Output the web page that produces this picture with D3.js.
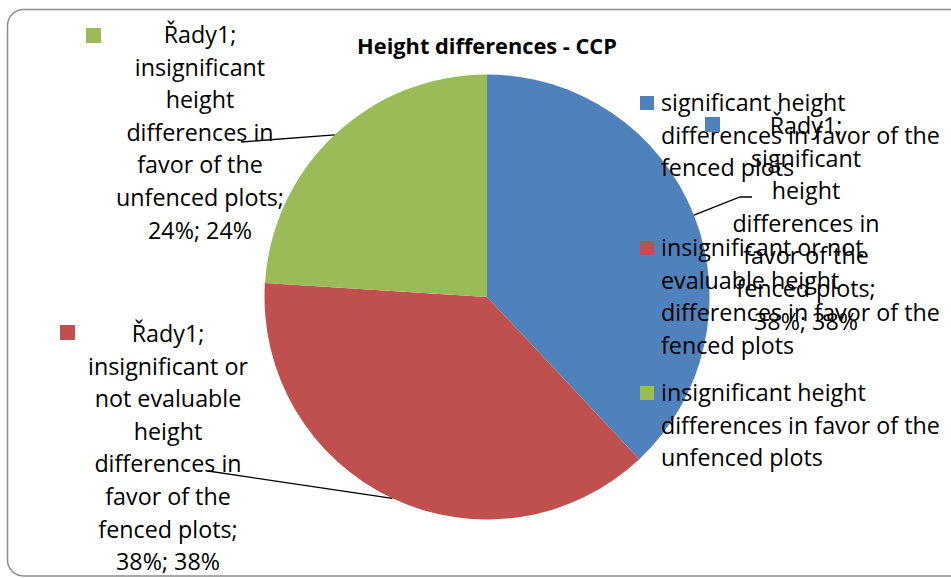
<!DOCTYPE html>
<html><head><meta charset="utf-8">
<script src="https://cdn.jsdelivr.net/npm/d3@7"></script>
<style>body{margin:0;background:#fff}svg{display:block}</style>
</head><body>
<svg id="c" width="951" height="578"></svg>
<script>
const title = "Height differences - CCP";
const categories = [
  "significant height differences in favor of the fenced plots",
  "insignificant or not evaluable height differences in favor of the fenced plots",
  "insignificant height differences in favor of the unfenced plots"
];
const values = [38, 38, 24];
const colors = ["#4F81BD", "#C0504D", "#9BBB59"];
const seriesName = "Řady1";
const legendLines = [
  ["significant height", "differences in favor of the", "fenced plots"],
  ["insignificant or not", "evaluable height", "differences in favor of the", "fenced plots"],
  ["insignificant height", "differences in favor of the", "unfenced plots"]
];
const labelLines = [
  ["Řady1;", "significant", "height", "differences in", "favor of the", "fenced plots;", "38%; 38%"],
  ["Řady1;", "insignificant or", "not evaluable", "height", "differences in", "favor of the", "fenced plots;", "38%; 38%"],
  ["Řady1;", "insignificant", "height", "differences in", "favor of the", "unfenced plots;", "24%; 24%"]
];

const FONT = "'Open Sans', sans-serif";
const svg = d3.select("#c");

// calibrate font sizes to reference text widths
function measure(txt, size, weight) {
  const t = svg.append("text").attr("font-family", FONT).attr("font-size", size).attr("font-weight", weight || "normal").text(txt);
  const w = t.node().getComputedTextLength(); t.remove(); return w;
}
const fs = 20 * 279 / measure("differences in favor of the", 20);
const tfs = 18 * 260 / measure(title, 18, "bold");

svg.append("rect").attr("x", 7.5).attr("y", 9.5).attr("width", 960).attr("height", 566.5)
  .attr("rx", 16).attr("fill", "#fff").attr("stroke", "#8c8c8c").attr("stroke-width", 1.5);

svg.append("text").attr("x", 487).attr("y", 54).attr("text-anchor", "middle")
  .attr("font-family", FONT).attr("font-weight", "bold").attr("font-size", tfs).text(title);

const cx = 487, cy = 297, R = 222.5;
const pie = d3.pie().sort(null).value(d => d)(values);
const arc = d3.arc().innerRadius(0).outerRadius(R);
const g = svg.append("g").attr("transform", `translate(${cx},${cy})`);
g.selectAll("path").data(pie).join("path").attr("d", arc).attr("fill", (d, i) => colors[i]);

// legend
const legTop = [103, 248, 393];
const lh = 32.6;
legendLines.forEach((lines, i) => {
  svg.append("rect").attr("x", 640).attr("y", legTop[i] - 7).attr("width", 14).attr("height", 14).attr("fill", colors[i]);
  const t = svg.append("text").attr("font-family", FONT).attr("font-size", fs).attr("fill", "#000");
  lines.forEach((l, k) => t.append("tspan").attr("x", 661).attr("y", legTop[i] + 8 + k * lh).text(l));
});

// data labels
const labelLayout = [
  {sx: 705, sy: 117, cx: 806, top: 126, leader: [[740, 197], [752, 197]]},
  {sx: 60, sy: 325, cx: 168, top: 334, leader: [[208, 471]]},
  {sx: 86, sy: 28, cx: 200, top: 35, leader: [[241, 142]]}
];
pie.forEach((p, i) => {
  const L = labelLayout[i];
  const mid = (p.startAngle + p.endAngle) / 2;
  const start = [cx + R * Math.sin(mid), cy - R * Math.cos(mid)];
  svg.append("path").attr("d", d3.line()([start, ...L.leader])).attr("fill", "none").attr("stroke", "#000").attr("stroke-width", 1.3);
  svg.append("rect").attr("x", L.sx).attr("y", L.sy).attr("width", 15).attr("height", 15).attr("fill", colors[i]);
  const t = svg.append("text").attr("font-family", FONT).attr("font-size", fs).attr("text-anchor", "middle");
  labelLines[i].forEach((l, k) => t.append("tspan").attr("x", L.cx).attr("y", L.top + 8 + k * lh).text(l));
});
</script>
</body></html>
